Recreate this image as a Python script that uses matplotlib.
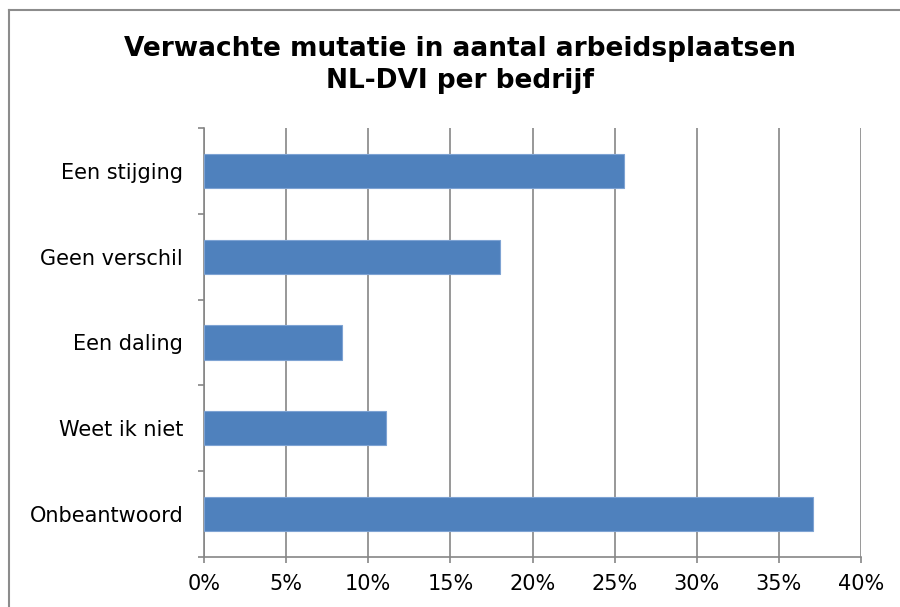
import matplotlib.pyplot as plt
from matplotlib.lines import Line2D
from matplotlib.ticker import PercentFormatter, MultipleLocator

# Data (top to bottom)
categories = ['Een stijging', 'Geen verschil', 'Een daling', 'Weet ik niet', 'Onbeantwoord']
values = [25.6, 18.0, 8.4, 11.1, 37.1]
bar_color = '#4F81BD'

plt.rcParams['font.family'] = ['Verdana', 'DejaVu Sans']

fig = plt.figure(figsize=(9, 6.07), dpi=100)
ax = fig.add_axes([204 / 900, 1 - 557 / 607, 657 / 900, 429 / 607])

# outer chart frame (only top and left are visible in the crop)
fig.add_artist(Line2D([8.5 / 900, 8.5 / 900], [0, 1 - 9.5 / 607],
                      transform=fig.transFigure, color='#8c8c8c', lw=1.5))
fig.add_artist(Line2D([8.5 / 900, 1], [1 - 9.5 / 607, 1 - 9.5 / 607],
                      transform=fig.transFigure, color='#8c8c8c', lw=1.5))

ypos = list(range(len(categories)))[::-1]
ax.barh(ypos, values, height=0.4, color=bar_color, edgecolor='#7ea3d3', lw=0.8, zorder=3)

ax.set_xlim(0, 40)
ax.set_ylim(-0.5, len(categories) - 0.5)
ax.xaxis.set_major_locator(MultipleLocator(5))
ax.xaxis.set_major_formatter(PercentFormatter(decimals=0))
ax.grid(axis='x', color='#868686', lw=1.2, zorder=0)

ax.set_yticks(ypos)
ax.set_yticklabels(categories)
ax.set_yticks([i - 0.5 for i in range(len(categories) + 1)], minor=True)
ax.tick_params(axis='y', which='major', length=0, pad=15, labelsize=15)
ax.tick_params(axis='y', which='minor', length=4, color='#868686', width=1.2)
ax.tick_params(axis='x', length=4, color='#868686', width=1.2, labelsize=15, pad=8)

for s in ['top', 'right']:
    ax.spines[s].set_visible(False)
for s in ['left', 'bottom']:
    ax.spines[s].set_color('#868686')
    ax.spines[s].set_linewidth(1.2)

fig.text(0.511, 1 - 65 / 607, 'Verwachte mutatie in aantal arbeidsplaatsen\nNL-DVI per bedrijf',
         ha='center', va='center', fontsize=19, fontweight='bold', linespacing=1.25)

fig.savefig('out.png', dpi=100)
